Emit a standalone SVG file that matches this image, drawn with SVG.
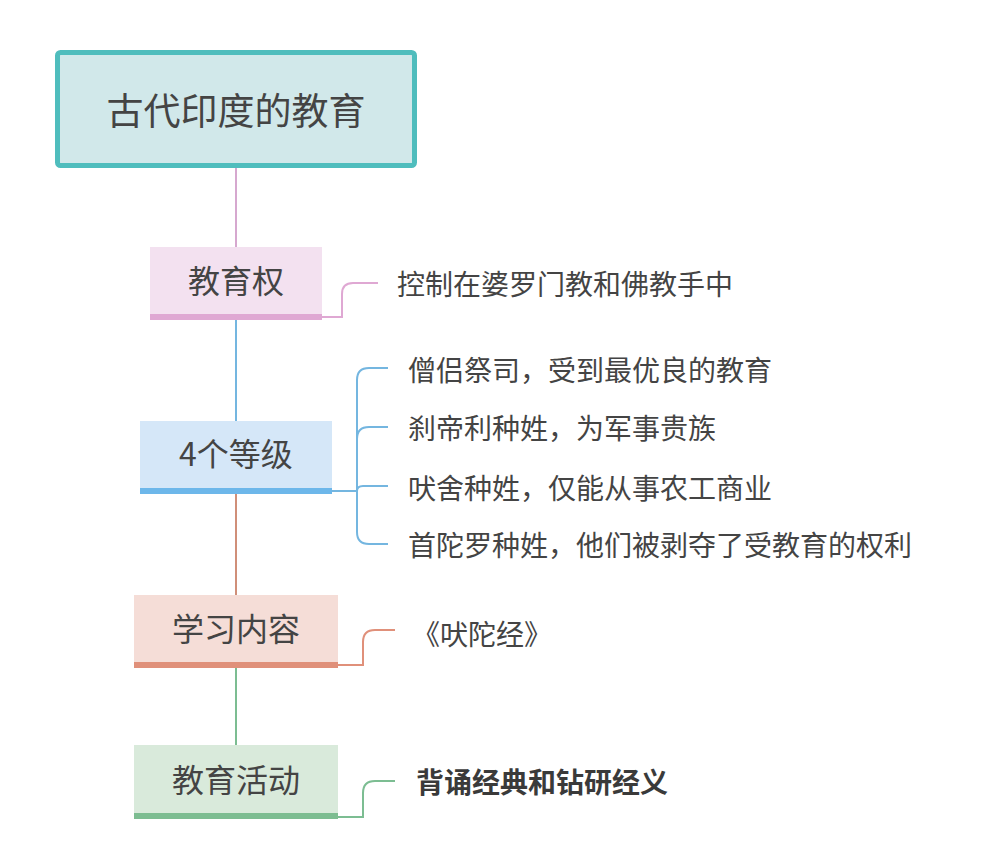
<svg xmlns="http://www.w3.org/2000/svg" width="983" height="868" viewBox="0 0 983 868">
<style>
text{font-family:"Noto Sans CJK SC","Noto Sans",sans-serif;fill:#444;dominant-baseline:central}
.main{font-size:32px;text-anchor:middle}
.leaf{font-size:28px}
.c{fill:none;stroke-width:2}
</style>
<rect width="983" height="868" fill="#fff"/>
<g id="connectors">
<path class="c" d="M236,168 V247" stroke="#d6a8cf"/>
<path class="c" d="M236,320 V421" stroke="#74b6e0"/>
<path class="c" d="M236,494 V595" stroke="#d08f79"/>
<path class="c" d="M236,667 V745" stroke="#7cbd92"/>
<path class="c" d="M322,317 H342 V294 Q342,283 353,283 H378" stroke="#dfa8d3"/>
<path class="c" d="M332,491 H357 V380 Q357,368 369,368 H388" stroke="#74b6e0"/>
<path class="c" d="M357,491 V439 Q357,427 369,427 H388" stroke="#74b6e0"/>
<path class="c" d="M357,491 Q357,486 363,486 H388" stroke="#74b6e0"/>
<path class="c" d="M357,491 V532 Q357,544 369,544 H388" stroke="#74b6e0"/>
<path class="c" d="M338,665 H363 V642 Q363,630 375,630 H395" stroke="#e0907a"/>
<path class="c" d="M338,817 H363 V793 Q363,781 375,781 H395" stroke="#7cbd92"/>
</g>
<g id="root">
<rect x="57.5" y="52.5" width="357" height="113" rx="3" fill="#d1e8ea" stroke="#4fbdbd" stroke-width="5"/>
<text x="236" y="109" class="main" style="font-size:37px">古代印度的教育</text>
</g>
<g id="n1">
<rect x="150" y="247" width="172" height="73" fill="#f3e1f0"/>
<rect x="150" y="314" width="172" height="6" fill="#dfa8d3"/>
<text x="236" y="279" class="main">教育权</text>
</g>
<g id="n1a"><text x="397" y="283" class="leaf">控制在婆罗门教和佛教手中</text></g>
<g id="n2">
<rect x="140" y="421" width="192" height="73" fill="#d5e7f8"/>
<rect x="140" y="488" width="192" height="6" fill="#6db7ea"/>
<text x="236" y="452" class="main">4个等级</text>
</g>
<g id="n2a"><text x="408" y="369" class="leaf">僧侣祭司，受到最优良的教育</text></g>
<g id="n2b"><text x="408" y="427" class="leaf">刹帝利种姓，为军事贵族</text></g>
<g id="n2c"><text x="408" y="487" class="leaf">吠舍种姓，仅能从事农工商业</text></g>
<g id="n2d"><text x="408" y="544" class="leaf">首陀罗种姓，他们被剥夺了受教育的权利</text></g>
<g id="n3">
<rect x="134" y="595" width="204" height="72" fill="#f5ddd7"/>
<rect x="134" y="662" width="204" height="6" fill="#e0907a"/>
<text x="236" y="627" class="main">学习内容</text>
</g>
<g id="n3a"><text x="412" y="633" class="leaf">《吠陀经》</text></g>
<g id="n4">
<rect x="134" y="745" width="204" height="73" fill="#d9eadb"/>
<rect x="134" y="813" width="204" height="6" fill="#7dbd91"/>
<text x="236" y="778" class="main">教育活动</text>
</g>
<g id="n4a"><text x="416" y="781" class="leaf" style="font-weight:bold;fill:#3a3a3a">背诵经典和钻研经义</text></g>
</svg>
